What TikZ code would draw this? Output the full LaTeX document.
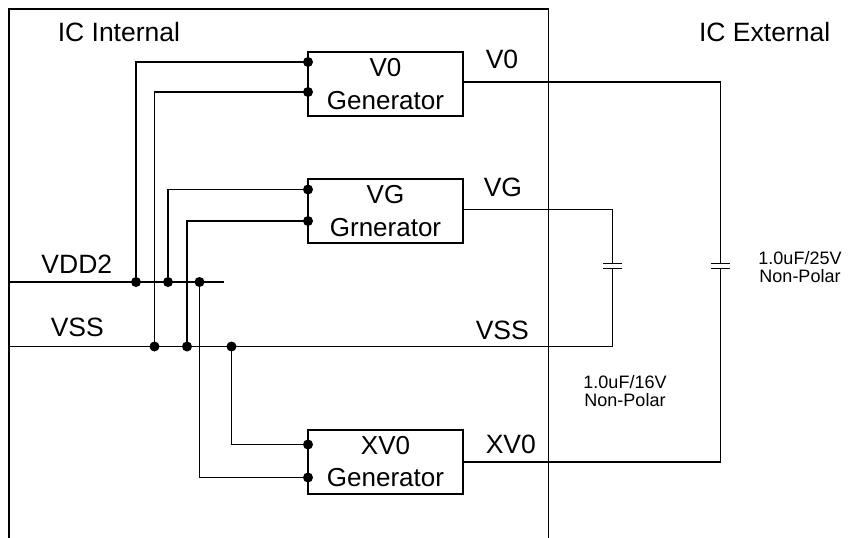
\documentclass[tikz,border=0pt]{standalone}
\usepackage{fontspec}
\setmainfont{Liberation Sans}
\begin{document}
\begin{tikzpicture}[x=1pt,y=-1pt, line width=1.6pt,
  gen/.style={draw, minimum width=155pt, minimum height=64pt, inner sep=0pt, align=center, font=\fontsize{26}{32.5}\selectfont},
  lbl/.style={font=\fontsize{26.5}{30}\selectfont, anchor=base west, inner sep=0pt},
  small/.style={font=\fontsize{18}{18}\selectfont, anchor=base, inner sep=0pt},
  dot/.style={circle, fill, inner sep=0pt, minimum size=10pt},
  plate/.style={line width=1.6pt}]
\useasboundingbox (0,0) rectangle (852,538);
% IC boundary
\coordinate (bl) at (9,540);
\coordinate (tl) at (9,9);
\coordinate (tr) at (548.5,9);
\coordinate (br) at (548.5,540);
\draw (bl) -- (tl) -- (tr) -- (br);
\node[lbl] (icint) at (57,41) {IC Internal};
\node[lbl, anchor=base east] (icext) at (831,41) {IC External};
% generators
\node[gen] (v0) at (385.5,84) {V0\\Generator};
\node[gen] (vg) at (385.5,211) {VG\\Grnerator};
\node[gen] (xv0) at (385.5,461.75) {XV0\\Generator};
% pins
\coordinate (v0a) at (308,62);
\coordinate (v0b) at (308,92);
\coordinate (vga) at (308,189.5);
\coordinate (vgb) at (308,221);
\coordinate (xv0a) at (308,444.5);
\coordinate (xv0b) at (308,477.5);
% rails
\coordinate (vddL) at (9,282);
\coordinate (vddR) at (224,282);
\coordinate (vssL) at (9,346.5);
\node[lbl] (vddlbl) at (40.7,273) {VDD2};
\node[lbl] (vsslbl) at (50,336.7) {VSS};
\draw (vddL) -- (vddR);
% junctions
\coordinate (j1) at (136,282);
\coordinate (j2) at (154.5,346.5);
\coordinate (j3) at (168,282);
\coordinate (j4) at (187,346.5);
\coordinate (j5) at (199.5,282);
\coordinate (j6) at (231.5,346.5);
\draw (v0a) -| (j1);
\draw (v0b) -| (j2);
\draw (vga) -| (j3);
\draw (vgb) -| (j4);
\draw (j5) |- (xv0b);
\draw (j6) |- (xv0a);
% capacitors
\coordinate (c1t) at (612.5,263.3);
\coordinate (c1b) at (612.5,268.3);
\coordinate (c2t) at (720.5,263.3);
\coordinate (c2b) at (720.5,268.3);
\draw[plate] ([xshift=-9.5pt]c1t) -- ([xshift=9.5pt]c1t);
\draw[plate] ([xshift=-9.5pt]c1b) -- ([xshift=9.5pt]c1b);
\draw[plate] ([xshift=-9.5pt]c2t) -- ([xshift=9.5pt]c2t);
\draw[plate] ([xshift=-9.5pt]c2b) -- ([xshift=9.5pt]c2b);
% outputs
\coordinate (v0out) at (463,82);
\coordinate (vgout) at (463,209.3);
\draw (vssL) -| (c1b);
\draw (vgout) -| (c1t);
\draw (v0out) -| (c2t);
\draw (xv0.east) -| (c2b);
% dots
\foreach \p in {v0a,v0b,vga,vgb,xv0a,xv0b,j1,j2,j3,j4,j5,j6}
  \node[dot] (d\p) at (\p) {};
% labels
\node[lbl] (v0lbl) at (485,68.3) {V0};
\node[lbl] (vglbl) at (483,196.7) {VG};
\node[lbl] (vssr) at (475,339) {VSS};
\node[lbl] (xv0lbl) at (485,453.3) {XV0};
\node[small] (c1l1) at (625,388) {1.0uF/16V};
\node[small] (c1l2) at (625,406.5) {Non-Polar};
\node[small] (c2l1) at (800,264) {1.0uF/25V};
\node[small] (c2l2) at (800,282.5) {Non-Polar};
\end{tikzpicture}
\end{document}
